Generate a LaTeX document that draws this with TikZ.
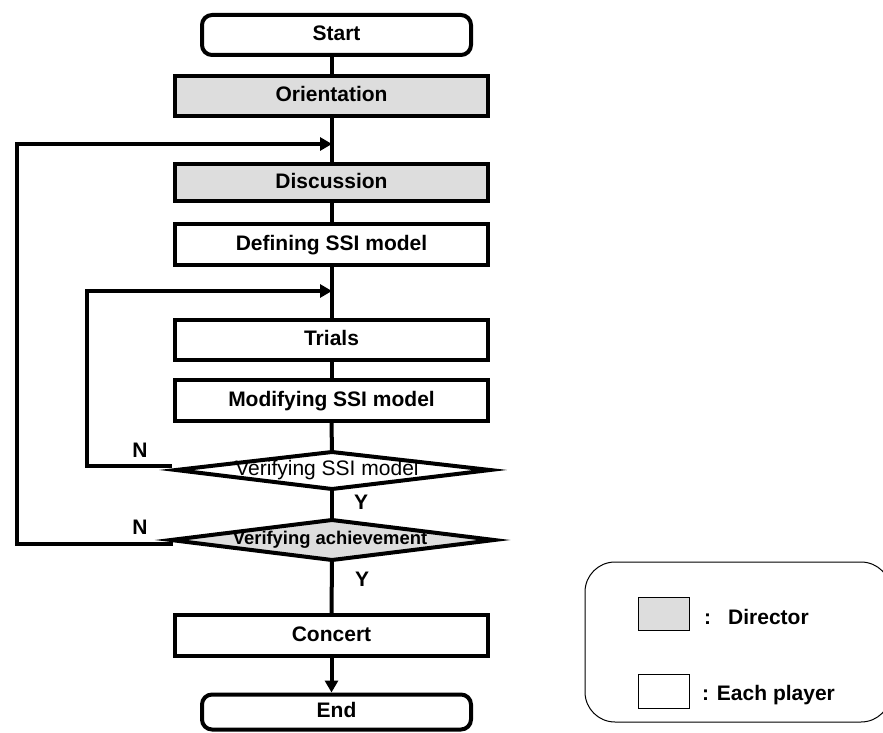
\documentclass[tikz,border=0pt]{standalone}
\usepackage{fontspec}
\setmainfont{Liberation Sans}
\usetikzlibrary{arrows.meta}
\definecolor{dirfill}{RGB}{221,221,221}
\begin{document}
\begin{tikzpicture}[x=1pt,y=-1pt,
  flow/.style={line width=4pt},
  tip/.style={-{Triangle[length=12pt,width=13pt]}},
  procbox/.style={draw,line width=4pt,minimum width=313pt,inner sep=0pt,
    font=\fontsize{21}{25}\selectfont\bfseries,text height=15pt,text depth=4pt},
  termbox/.style={procbox,minimum width=269pt,rounded corners=10pt},
  director/.style={fill=dirfill},
  lbl/.style={inner sep=0pt,font=\fontsize{21}{25}\selectfont\bfseries},
  decision/.style={draw,line width=4pt,line join=miter,miter limit=20}
]
\useasboundingbox (0,0) rectangle (883,733);

% process steps
\node[termbox,minimum height=40pt] (start) at (336.5,35) {Start};
\node[procbox,director,minimum height=40pt] (orient) at (331.5,96) {Orientation};
\node[procbox,director,minimum height=37pt] (disc) at (331.5,182.5) {Discussion};
\node[procbox,minimum height=41pt] (def) at (331.5,244.5) {Defining SSI model};
\node[procbox,minimum height=40pt] (trials) at (331.5,340) {Trials};
\node[procbox,minimum height=41pt] (mod) at (331.5,400.5) {Modifying SSI model};
\node[procbox,minimum height=41pt] (concert) at (331.5,635.5) {Concert};
\node[termbox,minimum height=35pt] (end) at (336.5,712) {End};

% decision diamonds
\coordinate (d1n) at (332,452);
\coordinate (d1s) at (332,489);
\coordinate (d1w) at (176,470);
\coordinate (d1e) at (490,470);
\draw[decision,fill=white] (d1n) -- (d1e) -- (d1s) -- (d1w) -- cycle;
\node[inner sep=0pt,font=\fontsize{21}{25}\selectfont,text height=15pt,text depth=4pt]
  (d1) at (327,470) {Verifying SSI model};

\coordinate (d2n) at (332,520);
\coordinate (d2s) at (332,560);
\coordinate (d2w) at (171,540);
\coordinate (d2e) at (494,540);
\draw[decision,fill=dirfill] (d2n) -- (d2e) -- (d2s) -- (d2w) -- cycle;
\node[inner sep=0pt,font=\fontsize{18.4}{22}\selectfont\bfseries,text height=13pt,text depth=4pt]
  (d2) at (330,540) {Verifying achievement};

% main flow
\coordinate (j1) at (332,144);
\coordinate (j2) at (332,291);
\draw[flow] (orient.north |- start.south) -- (orient.north);
\draw[flow] (orient.south) -- (disc.north);
\draw[flow] (disc.south) -- (def.north);
\draw[flow] (def.south) -- (trials.north);
\draw[flow] (trials.south) -- (mod.north);
\draw[flow] (mod.south) -- (d1n);
\draw[flow] (d1s) -- (d2n);
\draw[flow] (d2s) -- (concert.north);
\draw[flow,tip] (concert.south) -- (concert.south |- end.north);

% feedback loops
\coordinate (n1) at (172,466);
\coordinate (n2) at (173,544);
\draw[flow,tip] (n1) -- (87,466) -- (87,291) -- (j2);
\draw[flow,tip] (n2) -- (17,544) -- (17,144) -- (j1);

% branch labels
\node[lbl] (n1lbl) at (140,450) {N};
\node[lbl] (n2lbl) at (140,527) {N};
\node[lbl] (y1lbl) at (361,502) {Y};
\node[lbl] (y2lbl) at (362,579) {Y};

% legend
\draw[line width=1pt,rounded corners=30pt] (585,562) rectangle (891,722);
\node[draw,line width=1pt,fill=dirfill,minimum width=51pt,minimum height=33pt,inner sep=0pt]
  (legdir) at (664,614) {};
\node[draw,line width=1pt,fill=white,minimum width=51pt,minimum height=34pt,inner sep=0pt]
  (legplay) at (664,691.5) {};
\node[lbl,anchor=base west] (legdirtxt) at (704,624) {:\hspace{17pt}Director};
\node[lbl,anchor=base west] (legplaytxt) at (702,700) {: Each player};
\end{tikzpicture}
\end{document}
